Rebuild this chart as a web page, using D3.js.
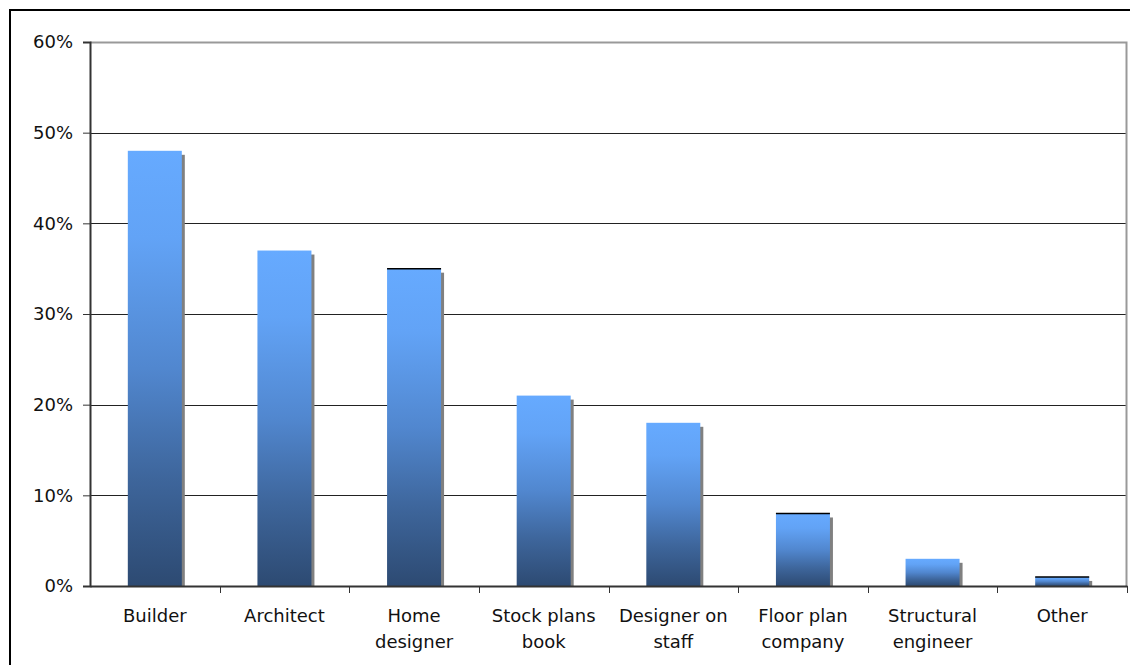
<!DOCTYPE html>
<html>
<head>
<meta charset="utf-8">
<script src="https://cdn.jsdelivr.net/npm/d3@7"></script>
<style>
  html, body { margin: 0; padding: 0; background: #fff; }
  svg { display: block; }
  text { font-family: "DejaVu Sans", Verdana, sans-serif; fill: #111; }
</style>
</head>
<body>
<script>
const categories = ["Builder", "Architect", "Home designer", "Stock plans book", "Designer on staff", "Floor plan company", "Structural engineer", "Other"];
const labelLines = [["Builder"], ["Architect"], ["Home", "designer"], ["Stock plans", "book"], ["Designer on", "staff"], ["Floor plan", "company"], ["Structural", "engineer"], ["Other"]];
const values = [48, 37, 35, 21, 18, 8, 3, 1];
const yTicks = [0, 10, 20, 30, 40, 50, 60];
const topEdged = ["Home designer", "Floor plan company", "Other"];

const W = 1130, H = 665;
const margin = {left: 90, top: 42, right: 3, bottom: 79};

const svg = d3.select("body").append("svg").attr("width", W).attr("height", H);

const defs = svg.append("defs");
const grad = defs.append("linearGradient").attr("id", "barGrad")
  .attr("x1", 0).attr("y1", 0).attr("x2", 0).attr("y2", 1);
[[0, "#66aaff"], [0.2, "#62a3f6"], [0.5, "#5187cf"], [0.75, "#3e669c"], [1, "#2d4a72"]]
  .forEach(([o, c]) => grad.append("stop").attr("offset", o).attr("stop-color", c));

// outer border
svg.append("rect").attr("x", 10).attr("y", 10).attr("width", W + 20).attr("height", H + 20)
  .attr("fill", "none").attr("stroke", "#000").attr("stroke-width", 2);

const x = d3.scaleBand().domain(categories).range([margin.left, W - margin.right]).paddingInner(0).paddingOuter(0);
const y = d3.scaleLinear().domain([0, 60]).range([H - margin.bottom, margin.top]);

// gridlines
svg.append("g").selectAll("line").data(yTicks.filter(t => t > 0 && t < 60)).join("line")
  .attr("x1", margin.left).attr("x2", W - margin.right)
  .attr("y1", d => Math.round(y(d)) + 0.5).attr("y2", d => Math.round(y(d)) + 0.5)
  .attr("stroke", "#222").attr("stroke-width", 1);

// plot area frame (top and right)
svg.append("path")
  .attr("d", `M${margin.left},${margin.top + 0.5} H${W - margin.right - 0.5} V${H - margin.bottom}`)
  .attr("fill", "none").attr("stroke", "#999").attr("stroke-width", 2);

// bars
const barW = 54;
const bars = svg.append("g");
const cx = d => x(d) + x.bandwidth() / 2;
bars.selectAll("rect.shadow").data(values).join("rect").attr("class", "shadow")
  .attr("x", (d, i) => cx(categories[i]) - barW / 2 + 3)
  .attr("y", d => y(d) + 4)
  .attr("width", barW)
  .attr("height", d => Math.max(0, y(0) - y(d) - 4))
  .attr("fill", "#808080");
bars.selectAll("rect.bar").data(values).join("rect").attr("class", "bar")
  .attr("x", (d, i) => cx(categories[i]) - barW / 2)
  .attr("y", d => y(d))
  .attr("width", barW)
  .attr("height", d => y(0) - y(d))
  .attr("fill", "url(#barGrad)");
bars.selectAll("line.edge").data(values.map((v, i) => ({v, c: categories[i]})).filter(d => topEdged.includes(d.c)))
  .join("line").attr("class", "edge")
  .attr("x1", d => cx(d.c) - barW / 2).attr("x2", d => cx(d.c) + barW / 2)
  .attr("y1", d => y(d.v)).attr("y2", d => y(d.v))
  .attr("stroke", "#000").attr("stroke-width", 1.5);

// y axis
const yAxis = svg.append("g").attr("transform", `translate(${margin.left},0)`)
  .call(d3.axisLeft(y).tickValues(yTicks).tickFormat(d => d + "%").tickSize(7).tickPadding(10));
yAxis.select(".domain").attr("stroke", "#333").attr("stroke-width", 2);
yAxis.selectAll(".tick line").attr("stroke", "#333");
yAxis.selectAll(".tick text").style("font-size", "18px").attr("fill", "#111")
  .style("font-family", '"DejaVu Sans", Verdana, sans-serif');

// x axis
const xAxis = svg.append("g").attr("transform", `translate(0,${H - margin.bottom})`)
  .call(d3.axisBottom(x).tickSize(0).tickFormat(""));
xAxis.select(".domain").attr("stroke", "#333").attr("stroke-width", 2);
const bounds = categories.map(c => x(c)).concat([x(categories[categories.length - 1]) + x.bandwidth()]);
xAxis.selectAll("line.sep").data(bounds.slice(1)).join("line").attr("class", "sep")
  .attr("x1", d => Math.round(d) + 0.5).attr("x2", d => Math.round(d) + 0.5)
  .attr("y1", 0).attr("y2", 7).attr("stroke", "#333");

const labels = svg.append("g");
categories.forEach((c, i) => {
  const t = labels.append("text").attr("text-anchor", "middle")
    .attr("x", cx(c)).attr("y", H - margin.bottom + 36)
    .style("font-size", "18px");
  labelLines[i].forEach((ln, j) => {
    t.append("tspan").attr("x", cx(c)).attr("dy", j === 0 ? 0 : 26).text(ln);
  });
});
</script>
</body>
</html>
